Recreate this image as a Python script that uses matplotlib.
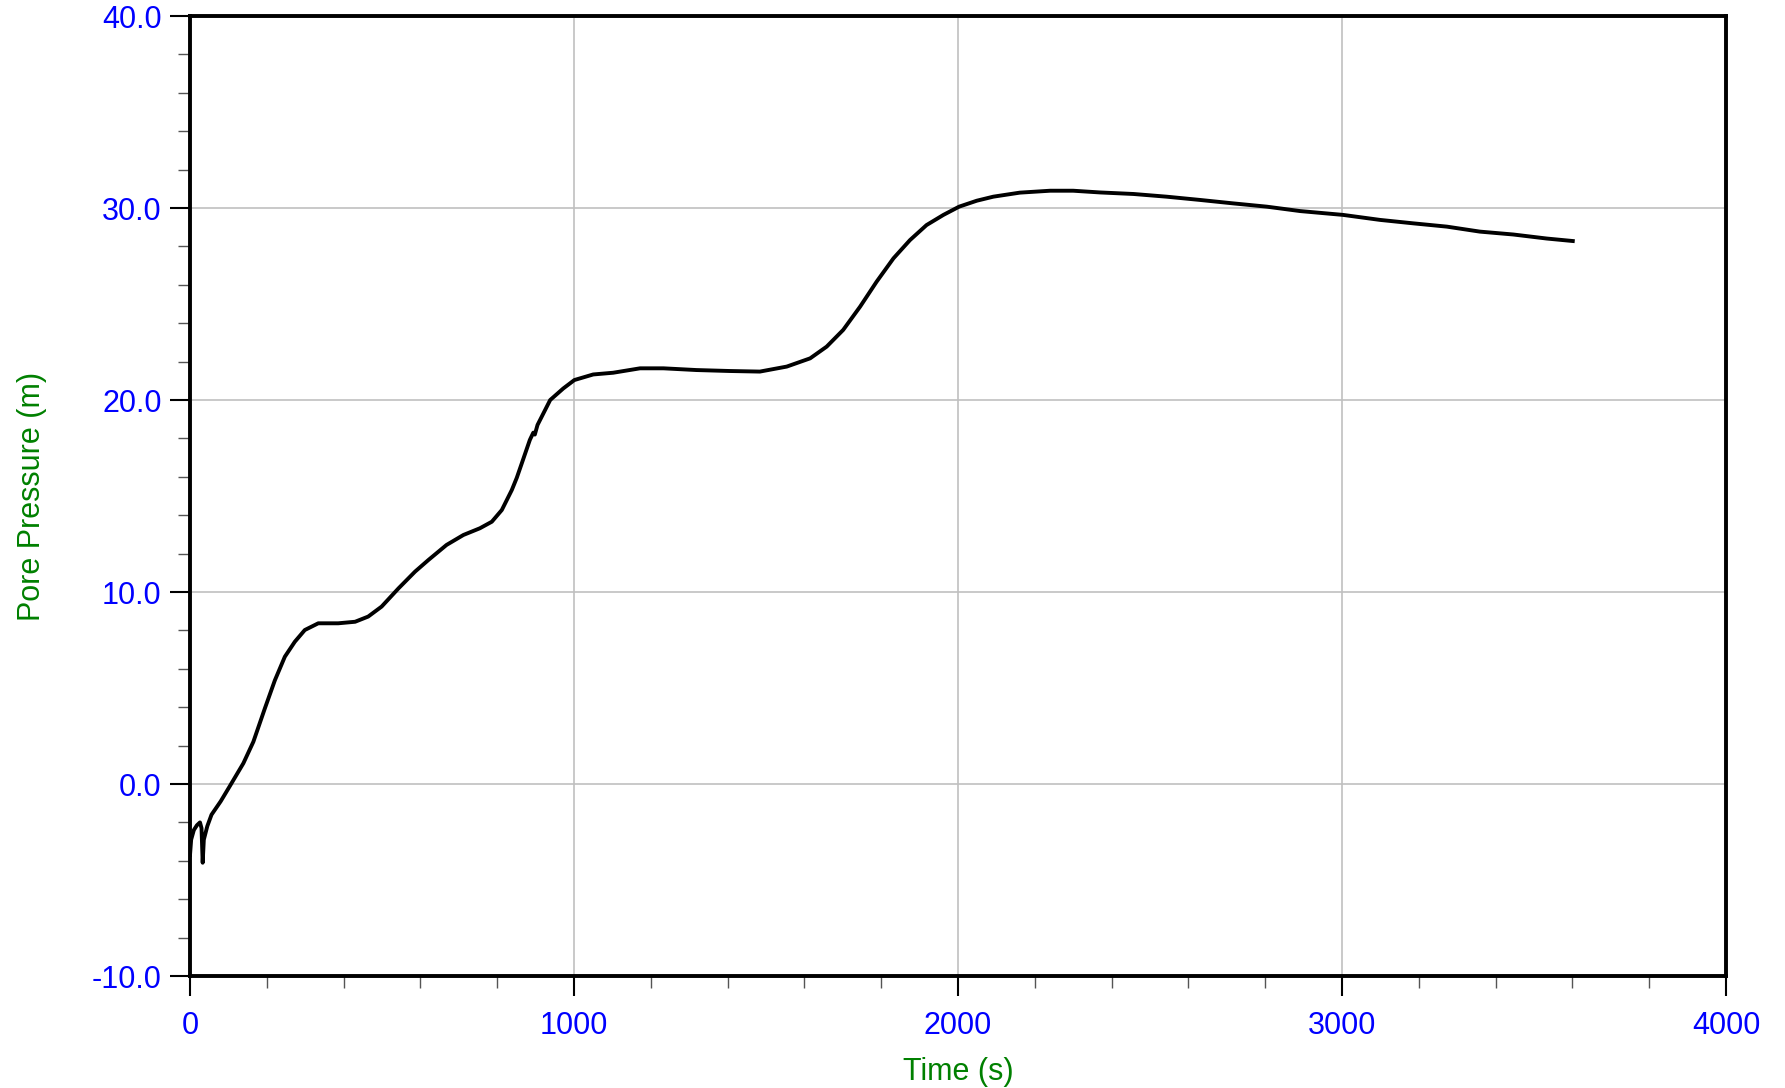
import matplotlib
matplotlib.use("Agg")
import matplotlib.pyplot as plt
from matplotlib.ticker import MultipleLocator, FormatStrFormatter

# pore pressure record
time_s = [0, 3, 10, 18, 26, 30, 33, 36, 45, 56, 80, 104, 139, 165, 195, 221, 247,
          273, 299, 334, 386, 430, 464, 499, 543, 586, 621, 668, 712, 755, 786,
          812, 838, 851, 864, 885, 894, 898, 905, 938, 972, 1001, 1050, 1102,
          1172, 1233, 1319, 1406, 1484, 1554, 1615, 1658, 1701, 1745, 1788,
          1832, 1875, 1918, 1962, 2003, 2049, 2092, 2161, 2240, 2300, 2370,
          2457, 2543, 2630, 2717, 2804, 2891, 3003, 3099, 3186, 3273, 3359,
          3446, 3533, 3601]
pore_m = [-3.7, -2.9, -2.4, -2.15, -2.0, -2.3, -4.1, -2.9, -2.2, -1.6, -0.9,
          -0.1, 1.08, 2.2, 3.94, 5.4, 6.63, 7.41, 8.02, 8.37, 8.37, 8.45, 8.72,
          9.24, 10.19, 11.06, 11.67, 12.45, 12.97, 13.32, 13.66, 14.27, 15.31,
          15.95, 16.7, 17.92, 18.3, 18.2, 18.7, 20.0, 20.6, 21.04, 21.33, 21.42,
          21.65, 21.65, 21.56, 21.51, 21.48, 21.74, 22.17, 22.78, 23.65, 24.86,
          26.16, 27.38, 28.33, 29.11, 29.64, 30.07, 30.38, 30.59, 30.8, 30.9,
          30.9, 30.81, 30.73, 30.59, 30.42, 30.24, 30.07, 29.84, 29.64, 29.38,
          29.2, 29.03, 28.77, 28.62, 28.41, 28.28]

plt.rcParams["font.family"] = ["Liberation Sans", "DejaVu Sans"]

fig = plt.figure(figsize=(17.85, 10.88), dpi=100)
ax = fig.add_axes([190 / 1785, 1 - 976 / 1088, (1726 - 190) / 1785, (976 - 16) / 1088])

ax.plot(time_s, pore_m, color="black", lw=2.8, zorder=3, solid_joinstyle="round")

ax.set_xlim(0, 4000)
ax.set_ylim(-10, 40)
ax.xaxis.set_major_locator(MultipleLocator(1000))
ax.xaxis.set_minor_locator(MultipleLocator(200))
ax.yaxis.set_major_locator(MultipleLocator(10))
ax.yaxis.set_minor_locator(MultipleLocator(2))
ax.yaxis.set_major_formatter(FormatStrFormatter("%.1f"))

ax.grid(True, which="major", color="#c0c0c0", lw=1.2, zorder=0)
for s in ax.spines.values():
    s.set_linewidth(2.8)
    s.set_zorder(4)

ax.tick_params(which="major", length=14.5, width=1.5, color="black",
               labelsize=22, labelcolor="#0000ff", pad=6)
ax.tick_params(which="minor", length=8.5, width=1.0, color="#555555")
ax.tick_params(axis="x", which="major", pad=11)
ax.tick_params(top=False, right=False)

ax.set_xlabel("Time (s)", fontsize=22, color="#008000", labelpad=11)
ax.set_ylabel("Pore Pressure (m)", fontsize=22, color="#008000", labelpad=32)

fig.savefig("out.png", dpi=100)
